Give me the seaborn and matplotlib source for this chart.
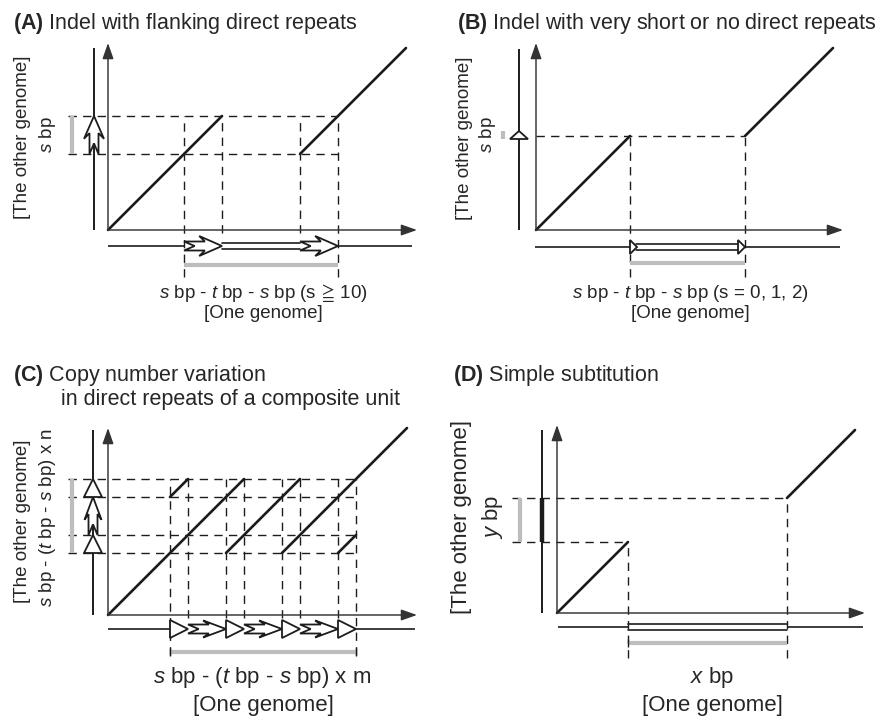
import matplotlib
matplotlib.use('Agg')
import matplotlib.pyplot as plt
from matplotlib.patches import Polygon
import pandas as pd
import seaborn as sns

sns.set_theme(style='white')
plt.rcParams['font.family'] = ['Liberation Sans', 'DejaVu Sans']
plt.rcParams['mathtext.fontset'] = 'custom'
plt.rcParams['mathtext.rm'] = 'Liberation Sans'
plt.rcParams['mathtext.it'] = 'Liberation Sans:italic'
plt.rcParams['mathtext.bf'] = 'Liberation Sans:bold'
plt.rcParams['mathtext.fallback'] = 'stix'
plt.rcParams['lines.scale_dashes'] = False

W, H = 879, 717
INK = '#1e1b1c'
AXIS = '#333333'
GREY = '#bdbdbd'
DASH = (6.0, 4.5)

# --- panel A: indel with flanking direct repeats (units ~ px, origin = plot corner) ---
a_matches = [(0, 0, 114), (192, 76, 106)]          # (x start, y start, length)
a_x_breaks = [76, 114, 192, 230]
a_y_breaks = [76, 114]

# --- panel B: indel with very short / no direct repeats ---
b_matches = [(0, 0, 94), (209, 94, 88)]
b_x_breaks = [94, 209]
b_y_breaks = [94]

# --- panel C: copy number variation of a composite unit ---
c_matches = [(0, 0, 136), (62, 118, 18), (118, 62, 74), (174, 62, 125), (230, 62, 18)]
c_x_breaks = [62, 80, 118, 136, 174, 192, 230, 248]
c_y_breaks = [62, 80, 118, 136]
c_x_units = ['tri', 'chev', 'tri', 'chev', 'tri', 'chev', 'tri']
c_y_units = ['tri', 'chev', 'tri']

# --- panel D: simple substitution ---
d_matches = [(0, 0, 71), (230, 115, 68)]
d_x_breaks = [71, 230]
d_y_breaks = [71, 115]

fig = plt.figure(figsize=(W / 100, H / 100), dpi=100)


def panel(ox, oy, box):
    x0, x1, y0, y1 = box
    ax = fig.add_axes([x0 / W, 1 - y1 / H, (x1 - x0) / W, (y1 - y0) / H])
    ax.axis('off')
    return ax, (x0 - ox, x1 - ox), (oy - y1, oy - y0)


def finish(ax, xl, yl):
    ax.set_xlim(*xl)
    ax.set_ylim(*yl)
    ax.set_xlabel('')
    ax.set_ylabel('')
    ax.axis('off')


def draw_axes(ax, xmax, ymax):
    style = dict(arrowstyle='-|>,head_length=0.8,head_width=0.28', color=AXIS,
                 lw=1.05, shrinkA=0, shrinkB=0)
    ax.annotate('', xy=(xmax, 0), xytext=(0, 0), arrowprops=style)
    ax.annotate('', xy=(0, ymax), xytext=(0, 0), arrowprops=style)


def draw_matches(ax, matches):
    rows = []
    for i, (x, y, n) in enumerate(matches):
        rows.append(dict(seg=i, x=x, y=y))
        rows.append(dict(seg=i, x=x + n, y=y + n))
    sns.lineplot(data=pd.DataFrame(rows), x='x', y='y', units='seg', estimator=None,
                 sort=False, color=INK, lw=1.9, ax=ax, legend=False)


def hdash(ax, y, x0, x1):
    ax.plot([x0, x1], [y, y], color=INK, lw=1.0, dashes=DASH)


def vdash(ax, x, y0, y1):
    ax.plot([x, x], [y1, y0], color=INK, lw=1.0, dashes=DASH)


def symbol(ax, kind, a, b, c, h=10, vertical=False, w=4.5):
    L = b - a
    if kind == 'tri':
        pts = [(a, h), (b, 0), (a, -h)]
    else:
        pts = [(a, w), (a + 0.55 * L, w), (a + 0.40 * L, h), (b, 0),
               (a + 0.40 * L, -h), (a + 0.55 * L, -w), (a, -w), (a + 0.28 * L, 0)]
    if vertical:
        xy = [(c - d, s) for s, d in pts]
    else:
        xy = [(s, c + d) for s, d in pts]
    ax.add_patch(Polygon(xy, closed=True, fc='white', ec=INK, lw=1.3, zorder=5,
                         joinstyle='miter'))


def double_line(ax, y, x0, x1, gap=2.6):
    ax.plot([x0, x1], [y + gap, y + gap], color=INK, lw=1.2)
    ax.plot([x0, x1], [y - gap, y - gap], color=INK, lw=1.2)


def line(ax, xs, ys, lw=1.2, color=INK, z=2):
    ax.plot(xs, ys, color=color, lw=lw, solid_capstyle='butt', zorder=z)


lab = dict(ha='center', va='center')
TS = 15.5  # title size

# ================= (A) =================
ax, xl, yl = panel(108, 230, (0, 440, 0, 330))
draw_axes(ax, 309, 187)
draw_matches(ax, a_matches)
for y in a_y_breaks:
    hdash(ax, y, -40, a_x_breaks[-1])
for i, x in enumerate(a_x_breaks):
    bottom = -47 if i in (0, len(a_x_breaks) - 1) else -3
    vdash(ax, x, a_y_breaks[-1], bottom)
# other genome (vertical)
line(ax, [-14, -14], [0, 182], lw=1.4)
symbol(ax, 'chev', a_y_breaks[0], a_y_breaks[1], -14, vertical=True)
line(ax, [-36, -36], a_y_breaks, lw=3, color=GREY)
# one genome (horizontal)
line(ax, [0, a_x_breaks[0]], [-16, -16])
line(ax, [a_x_breaks[-1], 304], [-16, -16])
double_line(ax, -16, a_x_breaks[1], a_x_breaks[2])
symbol(ax, 'chev', a_x_breaks[0], a_x_breaks[1], -16)
symbol(ax, 'chev', a_x_breaks[2], a_x_breaks[3], -16)
line(ax, [a_x_breaks[0], a_x_breaks[-1]], [-35, -35], lw=3, color=GREY)
ax.text(-95, 207, r'$\mathbf{(A)}$ Indel with flanking direct repeats', ha='left', va='center', fontsize=TS)
ax.text(-85, 93, '[The other genome]', rotation=90, fontsize=13.5, **lab)
ax.text(-60, 95, '$s$ bp', rotation=90, fontsize=13.5, **lab)
ax.text(155, -63, r'$s$ bp - $t$ bp - $s$ bp (s $\!\geqq\!$ 10)', fontsize=13.5, **lab)
ax.text(155, -83, '[One genome]', fontsize=13.5, **lab)
finish(ax, xl, yl)

# ================= (B) =================
ax, xl, yl = panel(536, 230, (440, 879, 0, 330))
draw_axes(ax, 307, 187)
draw_matches(ax, b_matches)
hdash(ax, b_y_breaks[0], 0, b_x_breaks[-1])
for x in b_x_breaks:
    vdash(ax, x, b_y_breaks[0], -47)
line(ax, [-17, -17], [0, 181], lw=1.4)
symbol(ax, 'tri', 91, 99, -17, h=9, vertical=True)
line(ax, [-33, -33], [91, 99], lw=3, color=GREY)
line(ax, [-1, b_x_breaks[0]], [-17, -17])
line(ax, [b_x_breaks[1], 304], [-17, -17])
double_line(ax, -17, b_x_breaks[0] + 6, b_x_breaks[1] - 6)
symbol(ax, 'tri', b_x_breaks[0], b_x_breaks[0] + 7, -17, h=7)
symbol(ax, 'tri', b_x_breaks[1] - 7, b_x_breaks[1], -17, h=7)
line(ax, b_x_breaks, [-33, -33], lw=3, color=GREY)
ax.text(-79, 207, r'$\mathbf{(B)}$ Indel with very short or no direct repeats', ha='left', va='center', fontsize=TS)
ax.text(-71, 92, '[The other genome]', rotation=90, fontsize=13.5, **lab)
ax.text(-48, 95, '$s$ bp', rotation=90, fontsize=13.5, **lab)
ax.text(154, -63, r'$s$ bp - $t$ bp - $s$ bp (s = 0, 1, 2)', fontsize=13.5, **lab)
ax.text(154, -83, '[One genome]', fontsize=13.5, **lab)
finish(ax, xl, yl)

# ================= (C) =================
ax, xl, yl = panel(108, 615, (0, 440, 330, 717))
draw_axes(ax, 309, 187)
draw_matches(ax, c_matches)
for y in c_y_breaks:
    hdash(ax, y, -40, c_x_breaks[-1])
for i, x in enumerate(c_x_breaks):
    bottom = -40 if i in (0, len(c_x_breaks) - 1) else -3
    vdash(ax, x, c_y_breaks[-1], bottom)
line(ax, [-15, -15], [0, 185], lw=1.4)
for kind, a, b in zip(c_y_units, c_y_breaks[:-1], c_y_breaks[1:]):
    symbol(ax, kind, a, b, -15, h=9 if kind == 'tri' else 8.5, vertical=True)
line(ax, [-36, -36], [c_y_breaks[0], c_y_breaks[-1]], lw=3, color=GREY)
line(ax, [0, c_x_breaks[0]], [-14, -14])
line(ax, [c_x_breaks[-1], 307], [-14, -14])
for kind, a, b in zip(c_x_units, c_x_breaks[:-1], c_x_breaks[1:]):
    symbol(ax, kind, a, b, -14, h=9 if kind == 'tri' else 8.5)
line(ax, [c_x_breaks[0], c_x_breaks[-1]], [-37, -37], lw=3, color=GREY)
for x in (c_x_breaks[0], c_x_breaks[-1]):
    line(ax, [x, x], [-33, -41], lw=1.0)
ax.text(-95, 240, r'$\mathbf{(C)}$ Copy number variation', ha='left', va='center', fontsize=TS)
ax.text(-47, 215, 'in direct repeats of a composite unit', ha='left', va='center', fontsize=TS)
ax.text(-85, 94, '[The other genome]', rotation=90, fontsize=13.5, **lab)
ax.text(-60, 97, r'$s$ bp - ($t$ bp - $s$ bp) x n', rotation=90, fontsize=13.5, **lab)
ax.text(154, -63, r'$s$ bp - ($t$ bp - $s$ bp) x m', fontsize=16, **lab)
ax.text(155, -90, '[One genome]', fontsize=16, **lab)
finish(ax, xl, yl)

# ================= (D) =================
ax, xl, yl = panel(557, 613, (440, 879, 330, 717))
draw_axes(ax, 308, 188)
draw_matches(ax, d_matches)
hdash(ax, d_y_breaks[1], -45, d_x_breaks[1])
hdash(ax, d_y_breaks[0], -45, d_x_breaks[0])
vdash(ax, d_x_breaks[0], d_y_breaks[0], -45)
vdash(ax, d_x_breaks[1], d_y_breaks[1], -45)
line(ax, [-15, -15], [0, 183], lw=1.4)
line(ax, [-15, -15], d_y_breaks, lw=3.2, color=INK, z=4)
line(ax, [-37, -37], d_y_breaks, lw=3, color=GREY)
line(ax, [1, d_x_breaks[0]], [-14, -14])
line(ax, [d_x_breaks[1], 306], [-14, -14])
double_line(ax, -14, d_x_breaks[0], d_x_breaks[1])
line(ax, d_x_breaks, [-30, -30], lw=3, color=GREY)
line(ax, [d_x_breaks[0]] * 2, [-26, -34], lw=1.0)
ax.text(-104, 238, r'$\mathbf{(D)}$ Simple subtitution', ha='left', va='center', fontsize=TS)
ax.text(-95, 96, '[The other genome]', rotation=90, fontsize=16, **lab)
ax.text(-64, 96, '$y$ bp', rotation=90, fontsize=16, **lab)
ax.text(155, -65, '$x$ bp', fontsize=16, **lab)
ax.text(155, -92, '[One genome]', fontsize=16, **lab)
finish(ax, xl, yl)

fig.savefig('out.png', dpi=100)
